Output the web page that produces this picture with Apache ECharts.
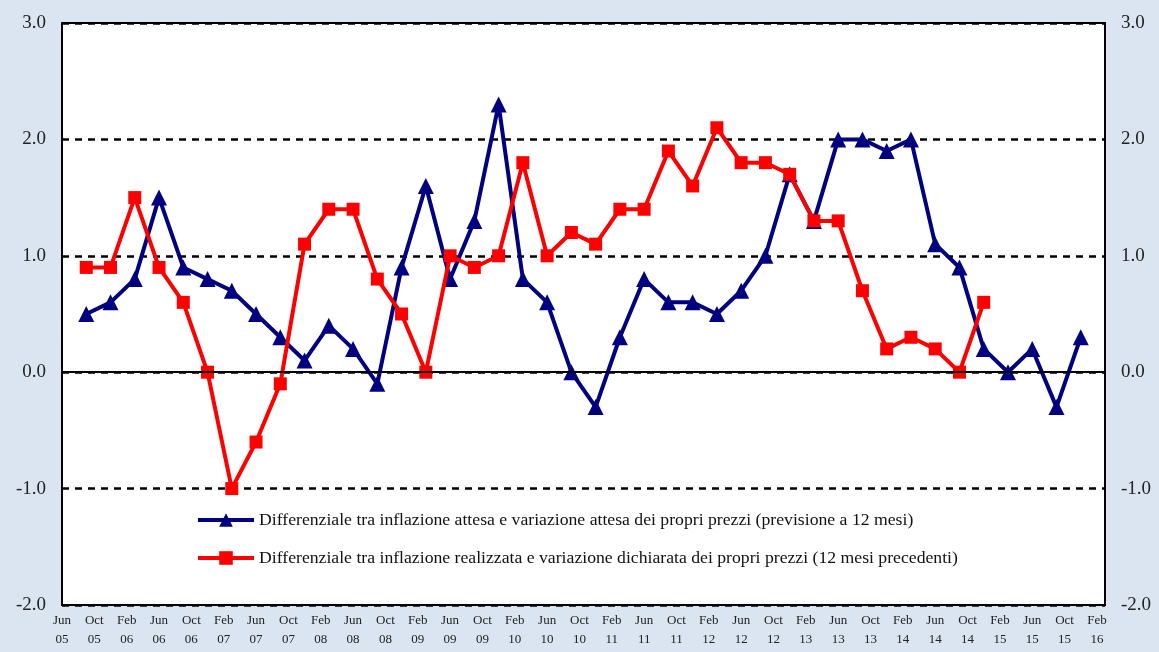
<!DOCTYPE html>
<html>
<head>
<meta charset="utf-8">
<script src="https://cdn.jsdelivr.net/npm/echarts@6/dist/echarts.min.js"></script>
<style>
  html, body { margin: 0; padding: 0; background: #dbe5f1; }
  #chart { width: 1159px; height: 652px; }
</style>
</head>
<body>
<div id="chart"></div>
<script>
// monthly category axis, Jun 05 .. Mar 16
const monthNames = ['Jan', 'Feb', 'Mar', 'Apr', 'May', 'Jun', 'Jul', 'Aug', 'Sep', 'Oct', 'Nov', 'Dec'];
const months = [];
for (let y = 2005; y <= 2016; y++) {
  for (let m = 0; m < 12; m++) {
    if (y === 2005 && m < 5) continue;
    if (y === 2016 && m > 2) continue;
    months.push(monthNames[m] + ' ' + String(y % 100).padStart(2, '0'));
  }
}

// quarterly observations
const quarters = [
  'Sep 05', 'Dec 05', 'Mar 06', 'Jun 06', 'Sep 06', 'Dec 06', 'Mar 07', 'Jun 07', 'Sep 07', 'Dec 07',
  'Mar 08', 'Jun 08', 'Sep 08', 'Dec 08', 'Mar 09', 'Jun 09', 'Sep 09', 'Dec 09', 'Mar 10', 'Jun 10',
  'Sep 10', 'Dec 10', 'Mar 11', 'Jun 11', 'Sep 11', 'Dec 11', 'Mar 12', 'Jun 12', 'Sep 12', 'Dec 12',
  'Mar 13', 'Jun 13', 'Sep 13', 'Dec 13', 'Mar 14', 'Jun 14', 'Sep 14', 'Dec 14', 'Mar 15', 'Jun 15',
  'Sep 15', 'Dec 15'
];

const attesa = [
  0.5, 0.6, 0.8, 1.5, 0.9, 0.8, 0.7, 0.5, 0.3, 0.1,
  0.4, 0.2, -0.1, 0.9, 1.6, 0.8, 1.3, 2.3, 0.8, 0.6,
  0.0, -0.3, 0.3, 0.8, 0.6, 0.6, 0.5, 0.7, 1.0, 1.7,
  1.3, 2.0, 2.0, 1.9, 2.0, 1.1, 0.9, 0.2, 0.0, 0.2,
  -0.3, 0.3
];

const realizzata = [
  0.9, 0.9, 1.5, 0.9, 0.6, 0.0, -1.0, -0.6, -0.1, 1.1,
  1.4, 1.4, 0.8, 0.5, 0.0, 1.0, 0.9, 1.0, 1.8, 1.0,
  1.2, 1.1, 1.4, 1.4, 1.9, 1.6, 2.1, 1.8, 1.8, 1.7,
  1.3, 1.3, 0.7, 0.2, 0.3, 0.2, 0.0, 0.6
];

const nameAttesa = 'Differenziale tra inflazione attesa e variazione attesa dei propri prezzi (previsione a 12 mesi)';
const nameRealizzata = 'Differenziale tra inflazione realizzata e variazione dichiarata dei propri prezzi (12 mesi precedenti)';

const serif = '"Liberation Serif", "DejaVu Serif", serif';

function pairs(values) {
  return values.map((v, i) => [quarters[i], v]);
}

const yAxisBase = {
  type: 'value',
  min: -2,
  max: 3,
  interval: 1,
  axisLine: { show: false },
  axisTick: { show: false },
  axisLabel: {
    formatter: v => v.toFixed(1),
    fontFamily: serif,
    fontSize: 19,
    color: '#222',
    margin: 16
  }
};

const chart = echarts.init(document.getElementById('chart'));
chart.setOption({
  backgroundColor: '#dbe5f1',
  animation: false,
  grid: {
    left: 62,
    right: 54,
    top: 23,
    bottom: 47,
    show: true,
    backgroundColor: '#ffffff',
    borderColor: '#000000',
    borderWidth: 2
  },
  legend: {
    orient: 'vertical',
    left: 191,
    top: 506,
    itemWidth: 56,
    itemHeight: 17,
    itemGap: 20,
    lineStyle: { width: 4 },
    textStyle: { fontFamily: serif, fontSize: 17.7, color: '#111' },
    data: [nameAttesa, nameRealizzata]
  },
  xAxis: {
    type: 'category',
    data: months,
    boundaryGap: false,
    axisLine: { show: false },
    axisTick: { show: false },
    splitLine: { show: false },
    axisLabel: {
      interval: 3,
      formatter: v => v.replace(' ', '\n'),
      fontFamily: serif,
      fontSize: 13,
      lineHeight: 19,
      color: '#222',
      margin: 6
    }
  },
  yAxis: [
    Object.assign({}, yAxisBase, {
      position: 'left',
      splitLine: {
        show: true,
        lineStyle: { color: '#000', width: 2.5, type: [7, 6] }
      }
    }),
    Object.assign({}, yAxisBase, {
      position: 'right',
      splitLine: { show: false }
    })
  ],
  series: [
    {
      name: nameAttesa,
      type: 'line',
      data: pairs(attesa),
      symbol: 'triangle',
      symbolSize: 16,
      showAllSymbol: true,
      lineStyle: { color: '#000080', width: 4 },
      itemStyle: { color: '#000080' },
      z: 3,
      markLine: {
        silent: true,
        symbol: 'none',
        label: { show: false },
        lineStyle: { color: '#000', width: 2, type: 'solid' },
        data: [{ yAxis: 0 }]
      }
    },
    {
      name: nameRealizzata,
      type: 'line',
      data: pairs(realizzata),
      symbol: 'rect',
      symbolSize: 13,
      showAllSymbol: true,
      lineStyle: { color: '#ff0000', width: 4 },
      itemStyle: { color: '#ff0000' },
      z: 4
    }
  ]
});
</script>
</body>
</html>
